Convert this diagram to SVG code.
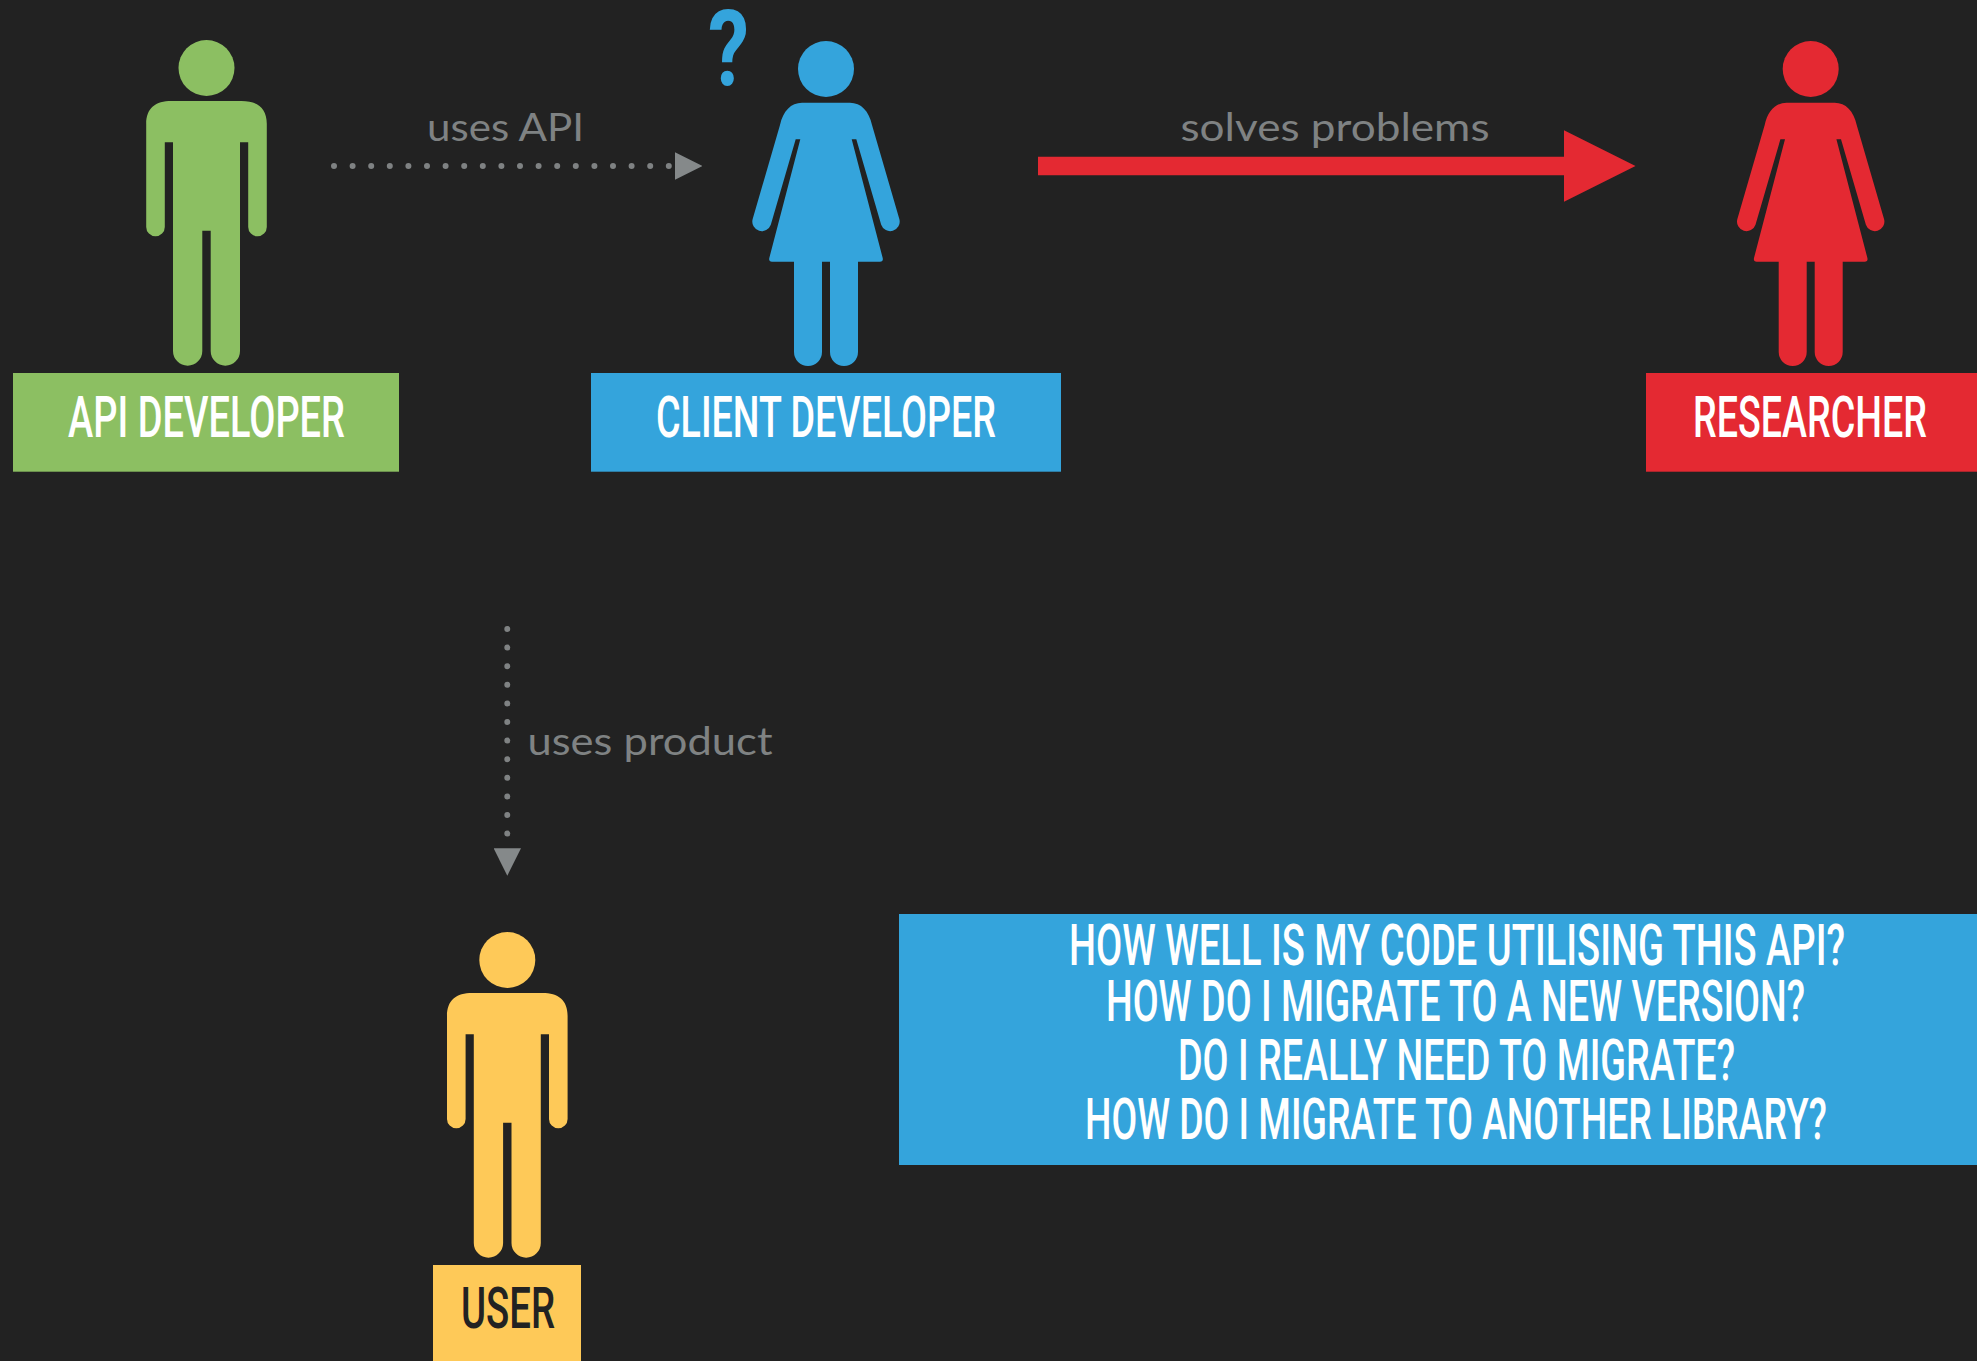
<svg xmlns="http://www.w3.org/2000/svg" xmlns:xlink="http://www.w3.org/1999/xlink" width="1977" height="1361" viewBox="0 0 1977 1361">
<style>
.title{font-family:"Roboto","Liberation Sans",sans-serif;font-weight:500;font-size:57px;fill:#fff}
.lab{font-family:"Lato","Noto Sans",sans-serif;font-size:38px;fill:#7f8283}
.dots{fill:none;stroke:#7f8283;stroke-width:6;stroke-linecap:round;stroke-dasharray:0 18.6}
.green{fill:#8cbf62}.blue{fill:#34a4dc}.red{fill:#e42932}.yellow{fill:#fec958}
</style>
<defs>
<g id="man">
<circle cx="0" cy="68" r="28"/>
<path d="M-35 101H35C51 101 60.3 108 60.3 124V227A9.3 9.3 0 0 1 41.7 227V142.3H33.5V351A14.65 14.65 0 0 1 4.2 351V230.7H-4.2V351A14.65 14.65 0 0 1 -33.5 351V142.3H-41.7V227A9.3 9.3 0 0 1 -60.3 227V124C-60.3 108 -51 101 -35 101Z"/>
</g>
<g id="woman">
<circle cx="0" cy="69" r="28"/>
<path d="M-24 102.7H24C35 102.7 43 111 46 125L73.4 219.3A9.5 9.5 0 0 1 55.2 224.7L30.3 139.3H25.7L56.7 258Q57.5 261.7 54 261.7H32V352A14 14 0 0 1 4 352V261.7H-4V352A14 14 0 0 1 -32 352V261.7H-54Q-57.5 261.7 -56.7 258L-25.7 139.3H-30.3L-55.2 224.7A9.5 9.5 0 0 1 -73.4 219.3L-46 125C-43 111 -35 102.7 -24 102.7Z"/>
</g>
<marker id="head-gray" markerUnits="userSpaceOnUse" viewBox="0 0 27.4 27.4" markerWidth="27.4" markerHeight="27.4" refX="0" refY="13.7" orient="auto"><path d="M0 0L27.4 13.7L0 27.4Z" fill="#85898a"/></marker>
<marker id="head-red" markerUnits="userSpaceOnUse" viewBox="0 0 71.5 71.4" markerWidth="71.5" markerHeight="71.4" refX="0" refY="35.7" orient="auto"><path d="M0 0L71.5 35.7L0 71.4Z" fill="#e42932"/></marker>
</defs>
<rect width="1977" height="1361" fill="#222222"/>
<g id="connectors">
<line class="dots" x1="334" y1="166" x2="675" y2="166" marker-end="url(#head-gray)"/>
<line class="dots" x1="507.3" y1="629" x2="507.3" y2="848.3" marker-end="url(#head-gray)"/>
<line x1="1038" y1="166" x2="1564" y2="166" stroke="#e42932" stroke-width="18.6" marker-end="url(#head-red)"/>
<text class="lab" x="427" y="141" textLength="157" lengthAdjust="spacingAndGlyphs">uses API</text>
<text class="lab" x="1180.5" y="141" textLength="309" lengthAdjust="spacingAndGlyphs">solves problems</text>
<text class="lab" x="527.5" y="754.7" textLength="245" lengthAdjust="spacingAndGlyphs">uses product</text>
</g>
<g id="api-developer">
<use href="#man" x="206.5" class="green"/>
<rect class="green" x="13" y="373" width="386" height="98.7"/>
<text class="title" x="68" y="436.7" textLength="277" lengthAdjust="spacingAndGlyphs">API DEVELOPER</text>
</g>
<g id="client-developer">
<use href="#woman" x="826" class="blue"/>
<rect class="blue" x="591" y="373" width="470" height="98.7"/>
<text class="title" x="656" y="436.7" textLength="340" lengthAdjust="spacingAndGlyphs">CLIENT DEVELOPER</text>
<text x="708" y="85" class="title" style="font-size:106px;font-weight:700;fill:#34a4dc" textLength="41" lengthAdjust="spacingAndGlyphs">?</text>
</g>
<g id="researcher">
<use href="#woman" x="1810.7" class="red"/>
<rect class="red" x="1646" y="373" width="331" height="98.7"/>
<text class="title" x="1693" y="436.7" textLength="234" lengthAdjust="spacingAndGlyphs">RESEARCHER</text>
</g>
<g id="user">
<use href="#man" x="507.3" y="892" class="yellow"/>
<rect class="yellow" x="433" y="1265" width="148" height="96"/>
<text class="title" x="461" y="1327.7" textLength="94" lengthAdjust="spacingAndGlyphs" style="fill:#222222">USER</text>
</g>
<g id="questions">
<rect class="blue" x="899" y="914" width="1078" height="251"/>
<text class="title" x="1069" y="965.3" textLength="776" lengthAdjust="spacingAndGlyphs">HOW WELL IS MY CODE UTILISING THIS API?</text>
<text class="title" x="1106" y="1021" textLength="699" lengthAdjust="spacingAndGlyphs">HOW DO I MIGRATE TO A NEW VERSION?</text>
<text class="title" x="1178" y="1080" textLength="557" lengthAdjust="spacingAndGlyphs">DO I REALLY NEED TO MIGRATE?</text>
<text class="title" x="1085" y="1138.7" textLength="742" lengthAdjust="spacingAndGlyphs">HOW DO I MIGRATE TO ANOTHER LIBRARY?</text>
</g>
</svg>
